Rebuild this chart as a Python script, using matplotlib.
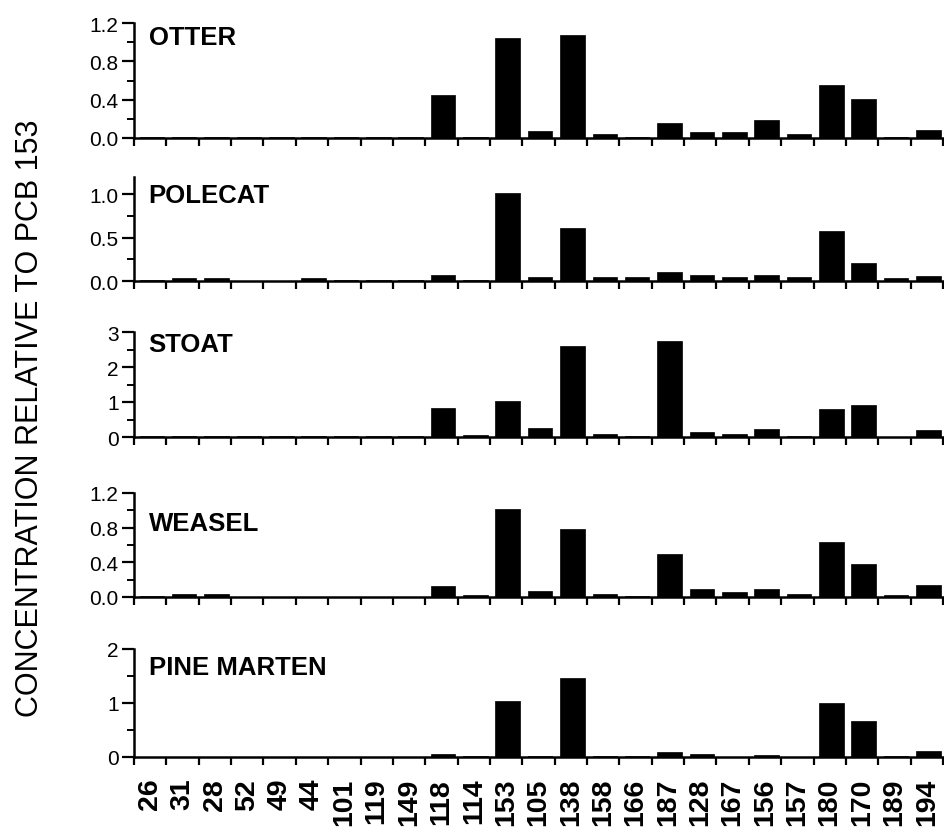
import matplotlib
matplotlib.use("Agg")
import matplotlib.pyplot as plt
from matplotlib.ticker import MultipleLocator, FixedLocator
import numpy as np

plt.rcParams['font.family'] = ['Liberation Sans', 'DejaVu Sans']

congeners = ["26", "31", "28", "52", "49", "44", "101", "119", "149", "118", "114",
             "153", "105", "138", "158", "166", "187", "128", "167", "156", "157",
             "180", "170", "189", "194"]

otter = [0.01, 0.01, 0.01, 0.01, 0.01, 0.01, 0.01, 0.01, 0.01, 0.45, 0.01,
         1.04, 0.07, 1.08, 0.04, 0.01, 0.16, 0.065, 0.065, 0.185, 0.04,
         0.556, 0.407, 0.01, 0.087]
polecat = [0.01, 0.037, 0.037, 0.005, 0.005, 0.037, 0.01, 0.01, 0.01, 0.07, 0.01,
           1.02, 0.05, 0.61, 0.05, 0.048, 0.10, 0.075, 0.048, 0.07, 0.045,
           0.58, 0.21, 0.037, 0.06]
stoat = [0.02, 0.02, 0.02, 0.02, 0.02, 0.02, 0.02, 0.02, 0.02, 0.83, 0.05,
         1.04, 0.25, 2.60, 0.10, 0.04, 2.75, 0.15, 0.09, 0.22, 0.02,
         0.80, 0.92, 0.01, 0.19]
weasel = [0.01, 0.036, 0.032, 0.005, 0.005, 0.005, 0.005, 0.005, 0.005, 0.126, 0.02,
          1.02, 0.07, 0.79, 0.036, 0.015, 0.50, 0.09, 0.06, 0.09, 0.032,
          0.64, 0.38, 0.02, 0.14]
pine_marten = [0.005, 0.005, 0.005, 0.005, 0.005, 0.005, 0.005, 0.005, 0.005, 0.06, 0.02,
               1.03, 0.02, 1.47, 0.01, 0.01, 0.09, 0.05, 0.005, 0.04, 0.005,
               1.00, 0.67, 0.01, 0.12]

species = ["OTTER", "POLECAT", "STOAT", "WEASEL", "PINE MARTEN"]
series = [otter, polecat, stoat, weasel, pine_marten]
ymax = [1.2, 1.2, 3, 1.2, 2]
yticks = [[0.0, 0.4, 0.8, 1.2], [0.0, 0.5, 1.0], [0, 1, 2, 3], [0.0, 0.4, 0.8, 1.2], [0, 1, 2]]
ytick_labels = [["0.0", "0.4", "0.8", "1.2"], ["0.0", "0.5", "1.0"], ["0", "1", "2", "3"],
                ["0.0", "0.4", "0.8", "1.2"], ["0", "1", "2"]]
minor_step = [0.2, 0.25, 0.5, 0.2, 0.5]

W, H = 944, 837
fig = plt.figure(figsize=(W / 100, H / 100), dpi=100)

# pixel geometry: (bottom_px, top_px)
panels_px = [(139, 24), (282, 178), (438, 333), (598, 494), (758, 650)]
label_y = [0.98, 0.94, 1.0, 0.83, 0.94]
left_px, right_px = 134, 943

x = np.arange(len(congeners))
for i, (name, vals) in enumerate(zip(species, series)):
    b, t = panels_px[i]
    ax = fig.add_axes([left_px / W, 1 - b / H, (right_px - left_px) / W, (b - t) / H])
    ax.bar(x + 0.05, vals, width=0.76, color='black', edgecolor='black', linewidth=0.5)
    ax.set_xlim(-0.5, len(congeners) - 0.5)
    ax.set_ylim(0, ymax[i])
    for s in ['top', 'right']:
        ax.spines[s].set_visible(False)
    for s in ['left', 'bottom']:
        ax.spines[s].set_linewidth(1.8)
    ax.set_yticks(yticks[i])
    ax.set_yticklabels(ytick_labels[i], fontsize=15)
    ax.yaxis.set_minor_locator(MultipleLocator(minor_step[i]))
    ax.tick_params(axis='y', which='major', direction='out', length=9, width=1.6, pad=2)
    ax.tick_params(axis='y', which='minor', direction='out', length=5, width=1.4)
    ax.xaxis.set_major_locator(FixedLocator(x))
    ax.xaxis.set_minor_locator(FixedLocator(np.arange(len(congeners) + 1) - 0.5))
    ax.tick_params(axis='x', which='major', length=0)
    ax.tick_params(axis='x', which='minor', direction='out', length=6, width=1.6)
    if i == len(species) - 1:
        ax.set_xticklabels(congeners, rotation=90, fontsize=20.5, fontweight='bold')
        ax.tick_params(axis='x', which='major', pad=15)
    else:
        ax.set_xticklabels([])
    ax.text(0.018, label_y[i], name, transform=ax.transAxes, fontsize=18.5,
            fontweight='bold', va='top', ha='left')

fig.text(30 / W, 0.5, "CONCENTRATION RELATIVE TO PCB 153", rotation=90,
         fontsize=22, va='center', ha='center')

fig.savefig("out.png", dpi=100)
